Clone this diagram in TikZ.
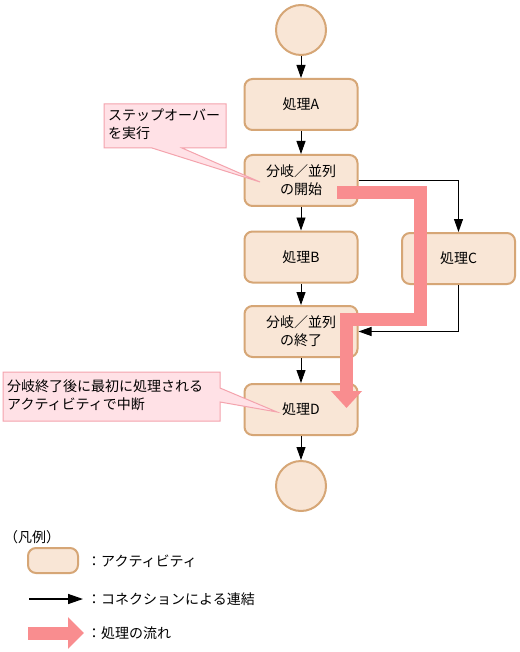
\documentclass[tikz,border=0pt]{standalone}
\usepackage{fontspec}
\setmainfont{Noto Sans CJK JP}
\usetikzlibrary{arrows.meta}
\definecolor{actfill}{HTML}{F9E6D6}
\definecolor{actdraw}{HTML}{D6A676}
\definecolor{flowpink}{HTML}{F98D8F}
\definecolor{notefill}{HTML}{FFE1E6}
\definecolor{notedraw}{HTML}{F4A3AD}
\begin{document}
\begin{tikzpicture}[x=1pt,y=-1pt, font=\fontsize{14}{18}\selectfont,
 act/.style={rectangle, rounded corners=8pt, fill=actfill, draw=actdraw, line width=2pt, minimum width=113pt, minimum height=51pt, align=center, inner sep=0pt},
 term/.style={circle, fill=actfill, draw=actdraw, line width=2pt, minimum size=50pt, inner sep=0pt},
 conn/.style={-{Triangle[length=13pt,width=9pt]}, line width=0.9pt, black},
 flow/.style={line width=13pt, flowpink, line join=miter, -{Triangle[length=17pt,width=30pt]}},
 note/.style={fill=notefill, draw=notedraw, line width=1pt},
 notetext/.style={anchor=north west, align=left, inner sep=0pt},
 legtext/.style={anchor=west, inner sep=0pt}]
\useasboundingbox (0,0) rectangle (519,652);
\fill[white] (0,0) rectangle (519,652);
% activities
\node[term] (start) at (301,30) {};
\node[act] (A) at (301,104.5) {処理A};
\node[act] (fork) at (301,180.5) {分岐／並列\\の開始};
\node[act] (B) at (301,257) {処理B};
\node[act] (C) at (458.5,258.5) {処理C};
\node[act] (join) at (301,331.5) {分岐／並列\\の終了};
\node[act] (D) at (301,409.5) {処理D};
\node[term] (end) at (301,486) {};
% connections
\draw[conn] (start) -- (A);
\draw[conn] (A) -- (fork);
\draw[conn] (fork) -- (B);
\draw[conn] (B) -- (join);
\draw[conn] (join) -- (D);
\draw[conn] (D) -- (end);
\draw[conn] (fork.east) -| (C.north);
\draw[conn] (C.south) |- (join.east);
% processing flow
\coordinate (f0) at (337,192.5);
\coordinate (f1) at (420.5,192.5);
\coordinate (f2) at (420.5,319.5);
\coordinate (f3) at (346.5,319.5);
\coordinate (f4) at (346.5,408);
\draw[flow] (f0) -- (f1) -- (f2) -- (f3) -- (f4);
% callouts
\draw[note] (104,104) -- (226,104) -- (226,148) -- (182,148) -- (260,182) -- (152,148) -- (104,148) -- cycle;
\node[notetext] (n1) at (108,109) {ステップオーバー\\を実行};
\draw[note] (3,372) -- (220,372) -- (220,388) -- (277,412) -- (220,402) -- (220,421) -- (3,421) -- cycle;
\node[notetext] (n2) at (7,380) {分岐終了後に最初に処理される\\アクティビティで中断};
% legend
\node[legtext] (lg) at (4,537) {（凡例）};
\node[act, minimum width=50pt, minimum height=25pt] (lgact) at (53,560.5) {};
\node[legtext] (lgt1) at (87,561) {：アクティビティ};
\coordinate (la) at (29,599);
\coordinate (lb) at (83,599);
\draw[conn, line width=1.4pt, -{Triangle[length=15pt,width=10pt]}] (la) -- (lb);
\node[legtext] (lgt2) at (87,599) {：コネクションによる連結};
\coordinate (pa) at (28,633);
\coordinate (pb) at (84,633);
\draw[flow, -{Triangle[length=16pt,width=31pt]}] (pa) -- (pb);
\node[legtext] (lgt3) at (87,633) {：処理の流れ};
\end{tikzpicture}
\end{document}
